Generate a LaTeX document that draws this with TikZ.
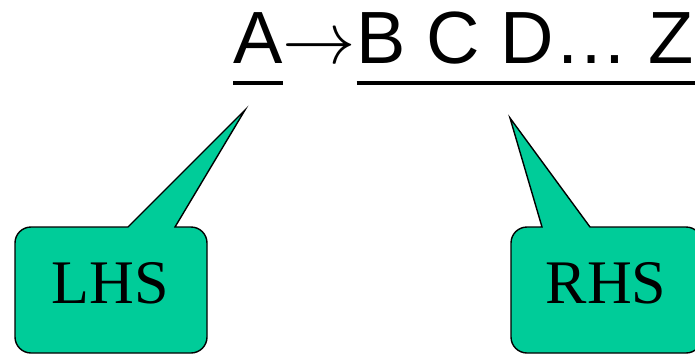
\documentclass[tikz,border=0pt]{standalone}
\usepackage{graphicx}
\usepackage{fontspec}
\setmainfont{Liberation Serif}
\newfontfamily\arialfont{Liberation Sans}
\definecolor{callgreen}{HTML}{00CC99}
\begin{document}
\begin{tikzpicture}[x=1pt,y=-1pt,
  headtext/.style={font=\arialfont\fontsize{74}{80}\selectfont, inner sep=0pt, anchor=base west},
  calltext/.style={font=\fontsize{62}{68}\selectfont, inner sep=0pt},
  uline/.style={line width=3.5pt},
  callout/.style={fill=callgreen, draw=black, line width=1.4pt, line join=miter}]
\useasboundingbox (0,0) rectangle (695,354);
% heading
\node[headtext] (a) at (233,63) {A};
\node[headtext] (arr) at (a.base east) {\scalebox{2.95}{\fontsize{25}{30}\selectfont$\rightarrow$}};
\node[headtext] (rest) at (arr.base east) {B C D… Z};
\draw[uline] ([yshift=-20pt]a.base west) -- ([yshift=-20pt]a.base east);
\draw[uline] ([yshift=-20pt]rest.base west) -- ([yshift=-20pt,xshift=4pt]rest.base east);
% pointer tips
\coordinate (ltip) at (245,110);
\coordinate (rtip) at (510,118);
% LHS callout
\draw[callout] (128,227) -- (ltip) -- (175,227)
  {[rounded corners=16pt] -- (207,227) -- (207,353) -- (15,353) -- (15,227)} -- cycle;
\node[calltext] (lhs) at (110,283) {LHS};
% RHS callout
\draw[callout] (542,227) -- (rtip) -- (590,227)
  {[rounded corners=16pt] -- (702,227) -- (702,353) -- (511,353) -- (511,227)} -- cycle;
\node[calltext] (rhs) at (606,283) {RHS};
\end{tikzpicture}
\end{document}
